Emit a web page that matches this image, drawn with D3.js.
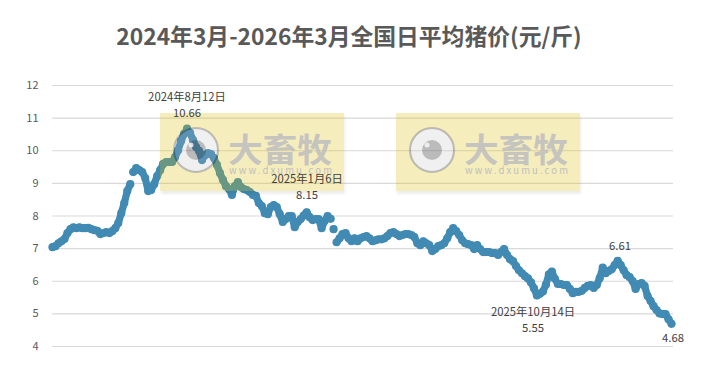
<!DOCTYPE html>
<html><head><meta charset="utf-8">
<script src="https://cdn.jsdelivr.net/npm/d3@7"></script>
<style>
html,body{margin:0;padding:0;background:#fff}
svg{display:block}
text{font-family:"Noto Sans CJK SC","Noto Sans",sans-serif}
</style></head><body><svg id="c" width="709" height="369"></svg>
<script>
const titleText = "2024年3月-2026年3月全国日平均猪价(元/斤)";
const yTicks = [4,5,6,7,8,9,10,11,12];
const prices = [
7.03,7.06,7.15,7.21,7.28,7.46,7.58,7.64,7.61,7.64,7.61,7.61,7.62,7.58,7.55,7.53,7.43,7.46,7.49,7.46,
7.52,7.61,7.77,8.07,8.38,8.75,8.96,9.33,9.45,9.39,9.33,9.15,8.75,8.78,8.96,9.21,9.39,9.58,9.64,9.64,
9.64,9.79,10.0,10.28,10.5,10.66,10.53,10.31,10.1,9.98,9.7,9.85,9.91,9.88,9.76,9.55,9.3,9.09,8.9,8.81,
8.63,8.9,9.02,8.87,8.81,8.78,8.72,8.63,8.6,8.38,8.29,8.07,8.04,8.26,8.32,8.26,8.04,7.8,7.89,7.98,
7.98,7.64,7.8,7.89,8.0,8.1,7.95,7.86,7.89,7.89,7.61,7.83,7.98,7.9,7.58,7.18,7.3,7.43,7.46,7.3,
7.21,7.3,7.21,7.3,7.34,7.37,7.3,7.21,7.24,7.27,7.27,7.3,7.37,7.46,7.49,7.43,7.37,7.4,7.43,7.43,
7.4,7.34,7.15,7.09,7.21,7.15,7.09,6.91,6.97,7.06,7.09,7.15,7.3,7.49,7.61,7.52,7.4,7.24,7.15,7.12,
7.09,6.97,7.09,6.97,6.88,6.88,6.88,6.85,6.85,6.79,6.88,6.97,6.79,6.66,6.6,6.45,6.32,6.23,6.14,6.07,
5.95,5.77,5.55,5.6,5.67,5.88,6.2,6.28,6.06,5.9,5.9,5.87,5.87,5.75,5.62,5.66,5.66,5.69,5.78,5.84,
5.87,5.78,5.87,6.08,6.4,6.23,6.3,6.35,6.48,6.61,6.48,6.32,6.17,6.11,5.99,5.75,5.9,5.93,5.84,5.53,
5.38,5.22,5.1,5.0,4.98,4.98,4.82,4.68];
// indices after which the reference shows a notch between separate dots
const breaksAfter = [26,93,94];
const labelLines = [
  ["2024年8月12日","10.66"],
  ["2025年1月6日","8.15"],
  ["2025年10月14日","5.55"],
  ["6.61"],
  ["4.68"]
];
const watermarkBrand = "大畜牧";
const watermarkUrl = "www.dxumu.com";

const svg = d3.select("#c");
const x = d3.scaleLinear().domain([0,prices.length-1]).range([52.5,671.5]);
const y = d3.scaleLinear().domain([4,12]).range([346,85]);
const ink = "#595959", blue = "#418ab3";

svg.append("text").attr("x",349).attr("y",45).attr("text-anchor","middle")
  .attr("font-size",22.8).attr("font-weight",700).attr("fill",ink).text(titleText);

const axis = d3.axisLeft(y).tickValues(yTicks).tickSize(-621).tickFormat(d3.format("d"));
const ag = svg.append("g").attr("transform","translate(52,0)").call(axis);
ag.select(".domain").remove();
ag.selectAll(".tick line").attr("stroke","#d9d9d9").attr("stroke-width",1.2);
ag.selectAll(".tick text").attr("x",-13.5).attr("fill",ink).attr("font-size",11);

// band: connecting line with the notch breaks, then the round markers
const starts = [0,...breaksAfter.map(b=>b+1)];
const ends = [...breaksAfter,prices.length-1];
const line = d3.line().x(d=>x(d.i)).y(d=>y(d.v)).curve(d3.curveLinear);
const pts = prices.map((v,i)=>({i,v}));
svg.append("g").selectAll("path").data(starts.map((s,k)=>pts.slice(s,ends[k]+1))).join("path")
  .attr("d",line).attr("fill","none").attr("stroke",blue).attr("stroke-width",7.2)
  .attr("stroke-linejoin","round").attr("stroke-linecap","round");
svg.append("g").selectAll("circle").data(prices).join("circle")
  .attr("cx",(d,i)=>x(i)).attr("cy",d=>y(d)).attr("r",4.1).attr("fill",blue);

const defs = svg.append("defs");
defs.append("filter").attr("id","soft").attr("x","-5%").attr("y","-10%").attr("width","110%").attr("height","125%")
  .append("feGaussianBlur").attr("stdDeviation",1.5);
const hole = defs.append("mask").attr("id","hole").attr("maskUnits","userSpaceOnUse")
  .attr("x",0).attr("y",0).attr("width",184).attr("height",78);
hole.append("rect").attr("width",184).attr("height",78).attr("fill","#fff");
hole.append("circle").attr("cx",36).attr("cy",37).attr("r",22.5).attr("fill","#000");
const outer = defs.append("mask").attr("id","outer").attr("maskUnits","userSpaceOnUse")
  .attr("x",-10).attr("y",-10).attr("width",204).attr("height",98);
outer.append("rect").attr("x",-10).attr("y",-10).attr("width",204).attr("height",98).attr("fill","#fff");
outer.append("rect").attr("width",184).attr("height",78).attr("fill","#000");

[160,396].forEach(x0=>{
  const g = svg.append("g").attr("transform",`translate(${x0},113)`);
  g.append("g").attr("mask","url(#outer)")
    .append("rect").attr("x",1).attr("y",3).attr("width",184).attr("height",78).attr("fill","#000").attr("opacity",0.07).attr("filter","url(#soft)");
  g.append("rect").attr("width",184).attr("height",78).attr("fill","#d9bd00").attr("opacity",0.26).attr("mask","url(#hole)");
  g.append("circle").attr("cx",36).attr("cy",37).attr("r",22).attr("fill","#bababa").attr("fill-opacity",0.21)
    .attr("stroke","#000").attr("stroke-opacity",0.24).attr("stroke-width",2);
  g.append("circle").attr("cx",36).attr("cy",37).attr("r",10).attr("fill","#000").attr("opacity",0.22);
  g.append("circle").attr("cx",31).attr("cy",32).attr("r",2.5).attr("fill","#fff").attr("opacity",0.75);
  g.append("text").attr("x",68).attr("y",49).attr("font-size",33).attr("font-weight",700).attr("fill","#bfbfbf").attr("fill-opacity",0.9).attr("textLength",104).attr("lengthAdjust","spacingAndGlyphs").text(watermarkBrand);
  g.append("text").attr("x",69).attr("y",60.5).attr("font-size",9.5).attr("fill","#bfbfbf").attr("textLength",103).text(watermarkUrl);
});

const placements = [[187,97],[307,179],[533,312],[620,246],[673,338]];
const lab = svg.append("g").attr("fill","#404040").attr("font-size",11.3).attr("text-anchor","middle");
labelLines.forEach((lines,k)=>{
  lines.forEach((t,j)=>{
    lab.append("text").attr("x",placements[k][0]).attr("y",placements[k][1]+j*16+4).text(t);
  });
});
</script></body></html>
